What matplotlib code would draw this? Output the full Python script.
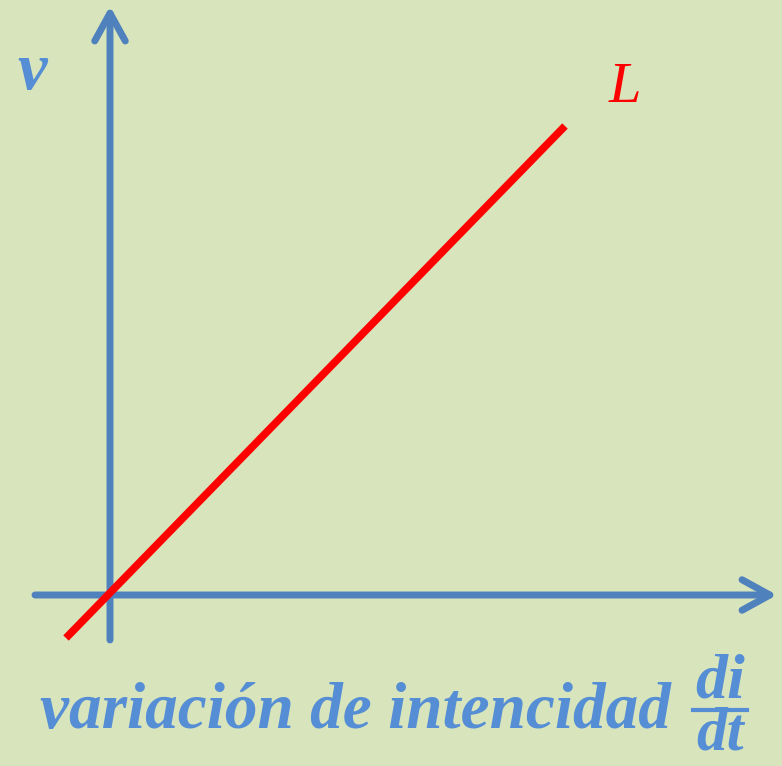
import numpy as np
import matplotlib
matplotlib.use('Agg')
import matplotlib.pyplot as plt
from matplotlib.patches import FancyArrowPatch

# Datos: recta v = L * di/dt (unidades de la gráfica)
di_dt = [-0.44, 4.55]
v = [-0.43, 4.69]

# Extremos de los ejes
eje_x = [-0.75, 6.67]
eje_y = [-0.45, 5.89]

fondo = '#D8E4BC'
azul_eje = '#4F81BD'
azul_texto = '#558ED5'
rojo = '#FF0000'

fig = plt.figure(figsize=(7.82, 7.66), dpi=100, facecolor=fondo)
ax = fig.add_axes([0, 0, 1, 1])
ax.set_facecolor(fondo)
ax.set_xlim(-1.10, 6.72)
ax.set_ylim(-1.71, 5.95)
ax.axis('off')

# Ejes con flecha abierta
estilo = '->,head_length=0.40,head_width=0.22'
for p0, p1 in [((eje_x[0], 0), (eje_x[1], 0)), ((0, eje_y[0]), (0, eje_y[1]))]:
    ax.add_patch(FancyArrowPatch(p0, p1, arrowstyle=estilo, mutation_scale=50,
                                 lw=5, color=azul_eje, capstyle='round',
                                 joinstyle='round', shrinkA=0, shrinkB=0))

# Recta
ax.plot(di_dt, v, color=rojo, lw=5.5, solid_capstyle='butt', zorder=3)

fuente = 'Liberation Serif'
ax.text(-0.78, 5.23, 'v', color=azul_texto, fontsize=48, fontweight='bold',
        fontstyle='italic', family=fuente, ha='center', va='center')
ax.text(5.15, 5.07, 'L', color=rojo, fontsize=42, fontstyle='italic',
        family=fuente, ha='center', va='center')

ax.text(-0.70, -1.33, 'variación de intencidad', color=azul_texto, fontsize=47,
        fontweight='bold', fontstyle='italic', family=fuente, ha='left', va='baseline')
ax.text(6.10, -1.03, 'di', color=azul_texto, fontsize=46, fontweight='bold',
        fontstyle='italic', family=fuente, ha='center', va='baseline')
ax.plot([5.83, 6.37], [-1.15, -1.15], color=azul_texto, lw=3)
ax.text(6.10, -1.55, 'dt', color=azul_texto, fontsize=44, fontweight='bold',
        fontstyle='italic', family=fuente, ha='center', va='baseline')

fig.savefig('out.png', dpi=100, facecolor=fondo)
